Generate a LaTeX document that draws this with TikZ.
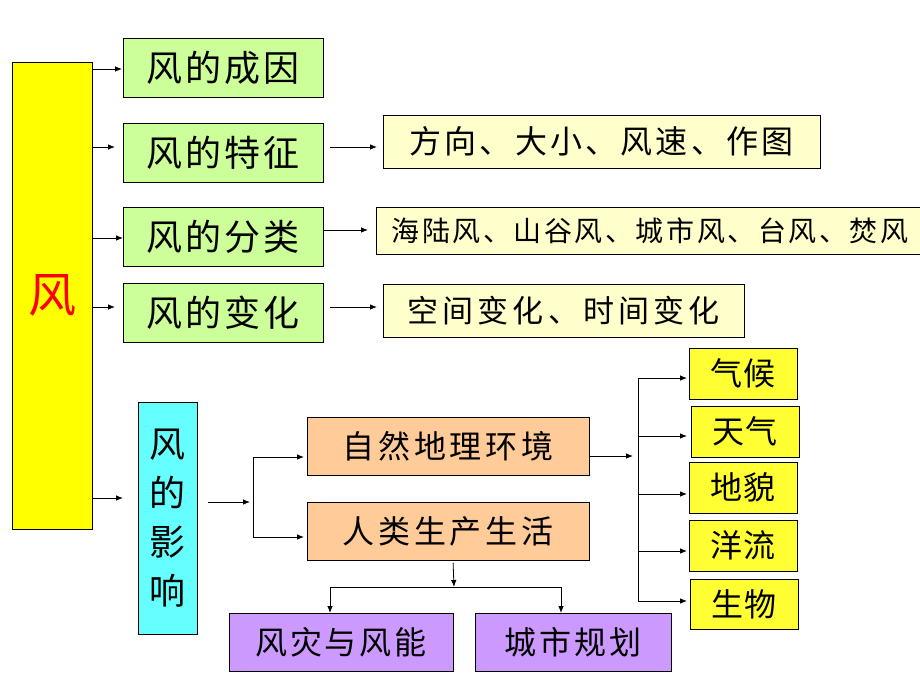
\documentclass[tikz,border=0pt]{standalone}
\usepackage{fontspec}
\setmainfont{Noto Sans CJK SC}
\usetikzlibrary{arrows.meta}
\definecolor{wyel}{HTML}{FFFF00}
\definecolor{wgreen}{HTML}{CCFF99}
\definecolor{wlight}{HTML}{FFFFCC}
\definecolor{wcyan}{HTML}{66FFFF}
\definecolor{worange}{HTML}{FFCC99}
\definecolor{wpurple}{HTML}{CC99FF}
\definecolor{wsmall}{HTML}{FFFF33}
\newcommand{\myfz}[2]{\fontsize{#1}{#1}\selectfont\addfontfeature{LetterSpace=#2}}
\tikzset{
  box/.style={draw=black, line width=0.9pt, inner sep=0pt, outer sep=0pt, anchor=center},
  gbox/.style={box, fill=wgreen, minimum width=200, minimum height=59, font=\myfz{36}{8}},
  lbox/.style={box, fill=wlight, font=\myfz{32}{10}},
  obox/.style={box, fill=worange, minimum width=282, minimum height=58, font=\myfz{32}{12}},
  pbox/.style={box, fill=wpurple, minimum height=58, font=\myfz{32}{9}},
  sbox/.style={box, fill=wsmall, minimum width=108, minimum height=51, font=\myfz{32}{6}},
  arr/.style={-{Latex[length=7pt,width=5.5pt]}, line width=0.8pt},
  ln/.style={line width=0.8pt}
}
\begin{document}
\begin{tikzpicture}[x=1pt,y=-1pt]
\useasboundingbox (0,0) rectangle (920,690);
\clip (0,0) rectangle (920,690);
\fill[white] (0,0) rectangle (920,690);

% main box
\node[box, fill=wyel, minimum width=80, minimum height=467, text=red, font=\fontsize{48}{48}\selectfont] (wind) at (52,295.5) {风};

% green boxes
\node[gbox] (c1) at (223,67.5) {风的成因};
\node[gbox] (c2) at (223,152.5) {风的特征};
\node[gbox] (c3) at (223,236.5) {风的分类};
\node[gbox] (c4) at (223,313) {风的变化};

% light yellow boxes
\node[lbox, minimum width=437, minimum height=53] (d2) at (601.5,141.5) {方向、大小、风速、作图};
\node[lbox, minimum width=548, minimum height=47, font=\myfz{28}{9}] (d3) at (650,230.5) {\makebox[0pt]{海陆风、山谷风、城市风、台风、焚风}};
\node[lbox, minimum width=361, minimum height=53, font=\myfz{31}{13}] (d4) at (563.5,310.5) {空间变化、时间变化};

% influence box
\node[box, fill=wcyan, minimum width=59, minimum height=232, align=center, font=\fontsize{36}{49}\selectfont] (infl) at (167.5,518) {风\\的\\影\\响};

% orange boxes
\node[obox] (n1) at (448,446) {自然地理环境};
\node[obox] (n2) at (448,531) {人类生产生活};

% purple boxes
\node[pbox, minimum width=224] (p1) at (341,642) {风灾与风能};
\node[pbox, minimum width=196] (p2) at (573,642) {城市规划};

% small yellow boxes
\node[sbox] (e1) at (743,373.5) {气候};
\node[sbox] (e2) at (745,431.5) {天气};
\node[sbox] (e3) at (743,487.5) {地貌};
\node[sbox] (e4) at (743,545.5) {洋流};
\node[sbox, minimum height=50] (e5) at (744,604) {生物};

% helper coordinates
\coordinate (h69) at (0,69);
\coordinate (h147) at (0,147);
\coordinate (h238) at (0,238);
\coordinate (h307) at (0,307);
\coordinate (h498) at (0,498);
\coordinate (h230) at (0,230);
\coordinate (bm) at (253,502);
\coordinate (bt) at (253,457);
\coordinate (bb) at (253,537);
\coordinate (rm) at (638,456);
\coordinate (rt) at (638,378);
\coordinate (rb) at (638,601);
\coordinate (r2) at (638,436);
\coordinate (r3) at (638,494);
\coordinate (r4) at (638,551);
\coordinate (dj) at (454,587);
\coordinate (dl) at (330,587);
\coordinate (dr) at (561,587);

% arrows from main box
\draw[arr, shorten >=1pt] (wind.east |- h69) -- (c1.west |- h69);
\draw[arr, shorten >=8pt] (wind.east |- h147) -- (c2.west |- h147);
\draw[arr] (wind.east |- h238) -- (c3.west |- h238);
\draw[arr, shorten >=8pt] (wind.east |- h307) -- (c4.west |- h307);
\draw[arr, shorten >=15pt] (wind.east |- h498) -- (infl.west |- h498);

% green to light yellow
\draw[arr, shorten <=7pt, shorten >=6pt] (c2.east |- h147) -- (d2.west |- h147);
\draw[arr, shorten >=8pt] (c3.east |- h230) -- (d3.west |- h230);
\draw[arr, shorten <=7pt, shorten >=6pt] (c4.east |- h307) -- (d4.west |- h307);

% influence bracket
\draw[arr, shorten <=11pt, shorten >=3pt] (infl.east |- bm) -- (bm);
\draw[ln] (bt) -- (bb);
\draw[arr, shorten >=3pt] (bt) -- (n1.west |- bt);
\draw[arr, shorten >=3pt] (bb) -- (n2.west |- bb);

% right bracket
\draw[arr, shorten >=5pt] (n1.east |- rm) -- (rm);
\draw[ln] (rt) -- (rb);
\draw[arr, shorten >=2pt] (rt) -- (e1.west |- rt);
\draw[arr, shorten >=4pt] (r2) -- (e2.west |- r2);
\draw[arr, shorten >=2pt] (r3) -- (e3.west |- r3);
\draw[arr, shorten >=2pt] (r4) -- (e4.west |- r4);
\draw[arr, shorten >=3pt] (rb) -- (e5.west |- rb);

% down from human life
\draw[arr, shorten <=3pt] ([xshift=5pt]n2.south) -- (dj);
\draw[ln] (dl) -- (dr);
\draw[arr] (dl) -- (p1.north -| dl);
\draw[arr] (dr) -- (p2.north -| dr);
\end{tikzpicture}
\end{document}
